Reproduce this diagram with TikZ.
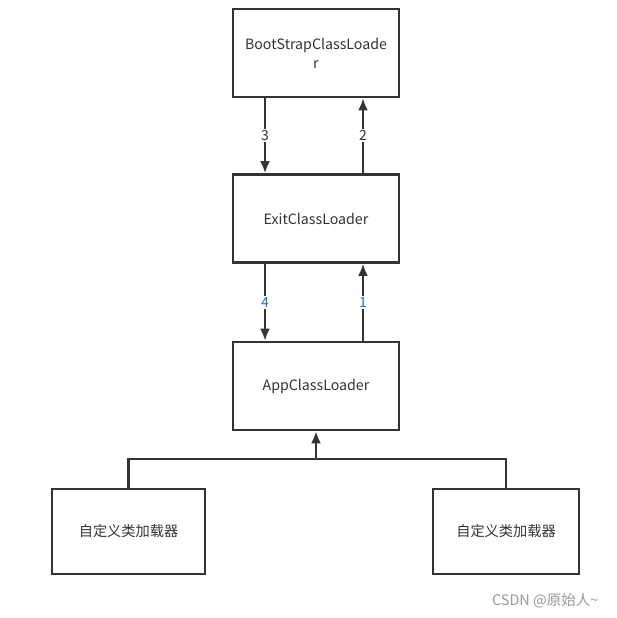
\documentclass[tikz,border=0pt]{standalone}
\usepackage{fontspec}
\setmainfont{Noto Sans CJK SC}
\usetikzlibrary{arrows.meta}
\definecolor{linegray}{HTML}{333333}
\definecolor{txtgray}{HTML}{333333}
\definecolor{numblue}{HTML}{1F6FB8}
\begin{document}
\begin{tikzpicture}[
  box/.style={draw=linegray,line width=2.6pt,fill=white,text=txtgray,
    minimum width=166pt,minimum height=88pt,align=center,
    font=\fontsize{14.2}{19}\selectfont},
  small/.style={box,minimum width=153pt,minimum height=85pt},
  link/.style={-{Latex[length=12pt,width=10pt]},linegray,line width=2.6pt},
  lbl/.style={fill=white,inner sep=1.5pt,font=\fontsize{14}{16}\selectfont},
  x=1pt,y=-1pt
]
  \useasboundingbox[fill=white] (0,0) rectangle (616,618);
  \node[box] (boot) at (316,53) {BootStrapClassLoade\\r};
  \node[box] (exit) at (316,218.5) {ExitClassLoader};
  \node[box] (app) at (316,386) {AppClassLoader};
  \node[small] (own1) at (128.5,531.5) {自定义类加载器};
  \node[small,minimum width=146pt] (own2) at (506,531.5) {自定义类加载器};
  % delegation between the loaders
  \foreach \a/\b/\dx/\n/\c in {boot/exit/-51/3/txtgray,exit/boot/47/2/txtgray,
                              exit/app/-51/4/numblue,app/exit/47/1/numblue}
    \draw[link] ([xshift=\dx pt]\a.\ifnum\n>2 south\else north\fi) --
      node[lbl,text=\c]{\n} ([xshift=\dx pt]\b.\ifnum\n>2 north\else south\fi);
  \coordinate (join) at (316,459);
  \draw[linegray,line width=2.6pt] (own1.north) |- (join) -| (own2.north);
  \draw[link] (join) -- (app.south);
  \node[text=gray!80,font=\fontsize{14.5}{16}\selectfont,anchor=east] (mark) at (602,601) {CSDN @原始人\textasciitilde};
\end{tikzpicture}
\end{document}
